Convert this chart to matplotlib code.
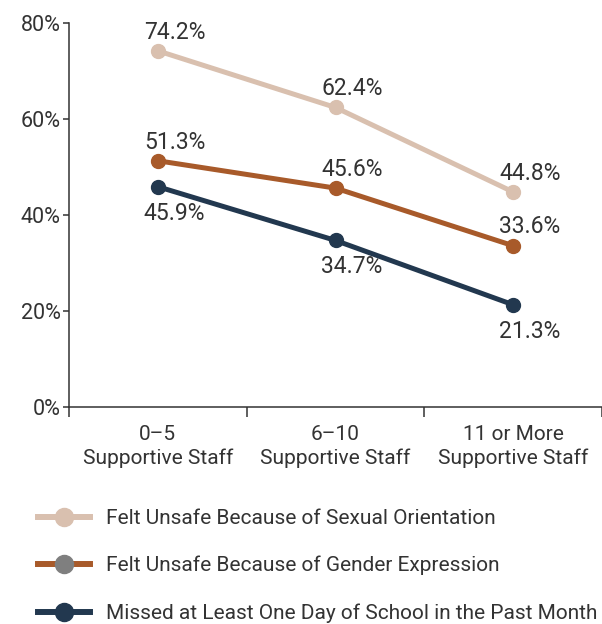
import matplotlib
matplotlib.use("Agg")
from matplotlib import pyplot as plt
from matplotlib.lines import Line2D
import numpy as np

# data
categories = ["0–5\nSupportive Staff", "6–10\nSupportive Staff", "11 or More\nSupportive Staff"]
series_names = ["Felt Unsafe Because of Sexual Orientation",
                "Felt Unsafe Because of Gender Expression",
                "Missed at Least One Day of School in the Past Month"]
sexual_orientation = [74.2, 62.4, 44.8]
gender_expression = [51.3, 45.6, 33.6]
missed_school = [45.9, 34.7, 21.3]
y_ticks = [0, 20, 40, 60, 80]

colors = ["#D9C0AF", "#A85A2A", "#22384F"]
legend_marker_colors = ["#D9C0AF", "#7F7F7F", "#22384F"]
label_side = [[1, 1, 1], [1, 1, 1], [-1, -1, -1]]

num_font = ["Roboto", "DejaVu Sans"]
cat_font = ["Roboto", "DejaVu Sans"]
txt = "#333333"

fig = plt.figure(figsize=(6.02, 6.24), dpi=100)
ax = fig.add_axes([69/602, 1-407/624, 1-69/602, (407-23)/624])

x = np.arange(len(categories))
for vals, c, side in zip([sexual_orientation, gender_expression, missed_school], colors, label_side):
    ax.plot(x, vals, '-', color=c, lw=3.6, marker='o', ms=10, zorder=3, solid_capstyle='round')
    for xi, v, s in zip(x, vals, side):
        ax.annotate("{:.1f}%".format(v), (xi, v), xytext=(12, 13.5 if s > 0 else -19),
                    textcoords='offset points', ha='center', va='center',
                    fontsize=16.5, color=txt, family=num_font)

ax.set_xlim(-0.5, 2.5)
ax.set_ylim(0, 80)
ax.set_yticks(y_ticks)
ax.set_yticklabels(["{}%".format(t) for t in y_ticks], family=num_font, fontsize=15.5, color=txt)
ax.set_xticks([-0.5, 0.5, 1.5, 2.5])
ax.set_xticklabels([])
ax.set_xticks(x, minor=True)
ax.set_xticklabels(categories, minor=True, family=cat_font, fontsize=15, color=txt, linespacing=1.3)
ax.tick_params(axis='x', which='major', length=7, width=1.1, color=txt, direction='out')
ax.tick_params(axis='x', which='minor', length=0, pad=13)
ax.tick_params(axis='y', length=4, width=1.1, color=txt, pad=2)
for s in ['top', 'right']:
    ax.spines[s].set_visible(False)
for s in ['left', 'bottom']:
    ax.spines[s].set_color(txt)
    ax.spines[s].set_linewidth(1.1)

handles = [Line2D([0], [0], color=c, lw=4.3, marker='o', ms=13, markerfacecolor=mc,
                  markeredgecolor=mc) for c, mc in zip(colors, legend_marker_colors)]
fig.legend(handles, series_names, loc='upper left', bbox_to_anchor=(38/602, 1-509/624),
           frameon=False, borderpad=0, borderaxespad=0, handlelength=2.5,
           handletextpad=0.75, labelspacing=1.34,
           prop={'family': cat_font, 'size': 15}, labelcolor=txt)

fig.savefig("out.png", dpi=100)
